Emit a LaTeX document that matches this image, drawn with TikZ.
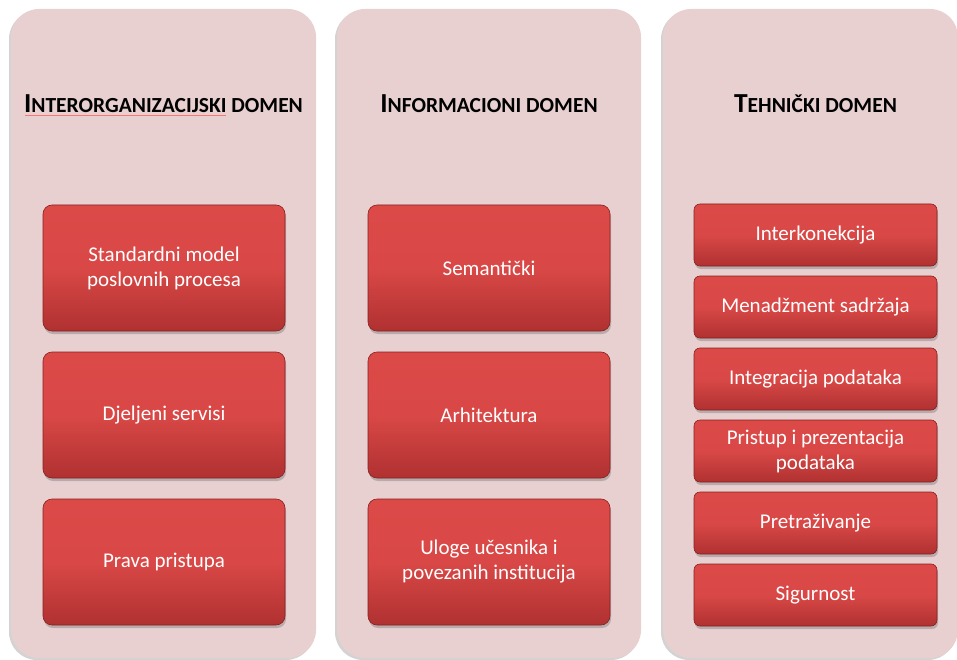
\documentclass[tikz,border=0pt]{standalone}
\usepackage{fontspec}
\setmainfont{Carlito}
\usepackage{xcolor}
\usetikzlibrary{shadows}

\definecolor{panelfill}{HTML}{E8D0D1}
\definecolor{boxtop}{HTML}{DC4A48}
\definecolor{boxbot}{HTML}{B03131}
\definecolor{boxline}{HTML}{852020}

\newcommand{\domtitle}[2]{{\fontsize{27.5}{30}\selectfont #1}{\fontsize{21.5}{30}\selectfont #2}}

\begin{document}
\begin{tikzpicture}[
    x=1pt, y=-1pt,
    panel/.style={fill=panelfill, rounded corners=28pt, 
                   drop shadow={shadow xshift=-2pt, shadow yshift=-2pt, opacity=0.35}},
    heading/.style={font=\bfseries, text=black, anchor=base},
    item/.style={draw=boxline, line width=0.6pt, rounded corners=9pt,
                 top color=boxtop, bottom color=boxbot, middle color=boxtop!92!boxbot,
                 text=white, align=center, minimum width=242pt, minimum height=126pt,
                 font=\fontsize{21}{25}\selectfont,
                 drop shadow={shadow xshift=1pt, shadow yshift=-3pt, opacity=0.45}},
    smallitem/.style={item, minimum width=243pt, minimum height=62pt, rounded corners=6pt}
]
\useasboundingbox (0,0) rectangle (957,660);

% Panels
\path[panel] (11,9) rectangle (316,658);
\path[panel] (337,9) rectangle (641,658);
\path[panel] (663,9) rectangle (958,658);

% Headings
\node[heading] (t1) at (163.5,113) {\domtitle{I}{NTERORGANIZACIJSKI DOMEN}};
\node[heading] (t2) at (489,113) {\domtitle{I}{NFORMACIONI DOMEN}};
\node[heading] (t3) at (815.5,113) {\domtitle{T}{EHNIČKI DOMEN}};
\draw[red!55, line width=0.5pt] (25,115.5) -- (226,115.5);

% Left column
\node[item] (model) at (164,268) {Standardni model\\poslovnih procesa};
\node[item] (servisi) at (164,415) {Djeljeni servisi};
\node[item] (prava) at (164,562) {Prava pristupa};

% Center column
\node[item] (semanticki) at (489,268) {Semantički};
\node[item] (arhitektura) at (489,415) {Arhitektura};
\node[item] (uloge) at (489,562) {Uloge učesnika i\\povezanih institucija};

% Right column
\node[smallitem] (interkonekcija) at (815.5,235) {Interkonekcija};
\node[smallitem] (sadrzaj) at (815.5,307) {Menadžment sadržaja};
\node[smallitem] (integracija) at (815.5,379) {Integracija podataka};
\node[smallitem] (pristup) at (815.5,451) {Pristup i prezentacija\\podataka};
\node[smallitem] (pretrazivanje) at (815.5,523) {Pretraživanje};
\node[smallitem] (sigurnost) at (815.5,595) {Sigurnost};

\end{tikzpicture}
\end{document}
